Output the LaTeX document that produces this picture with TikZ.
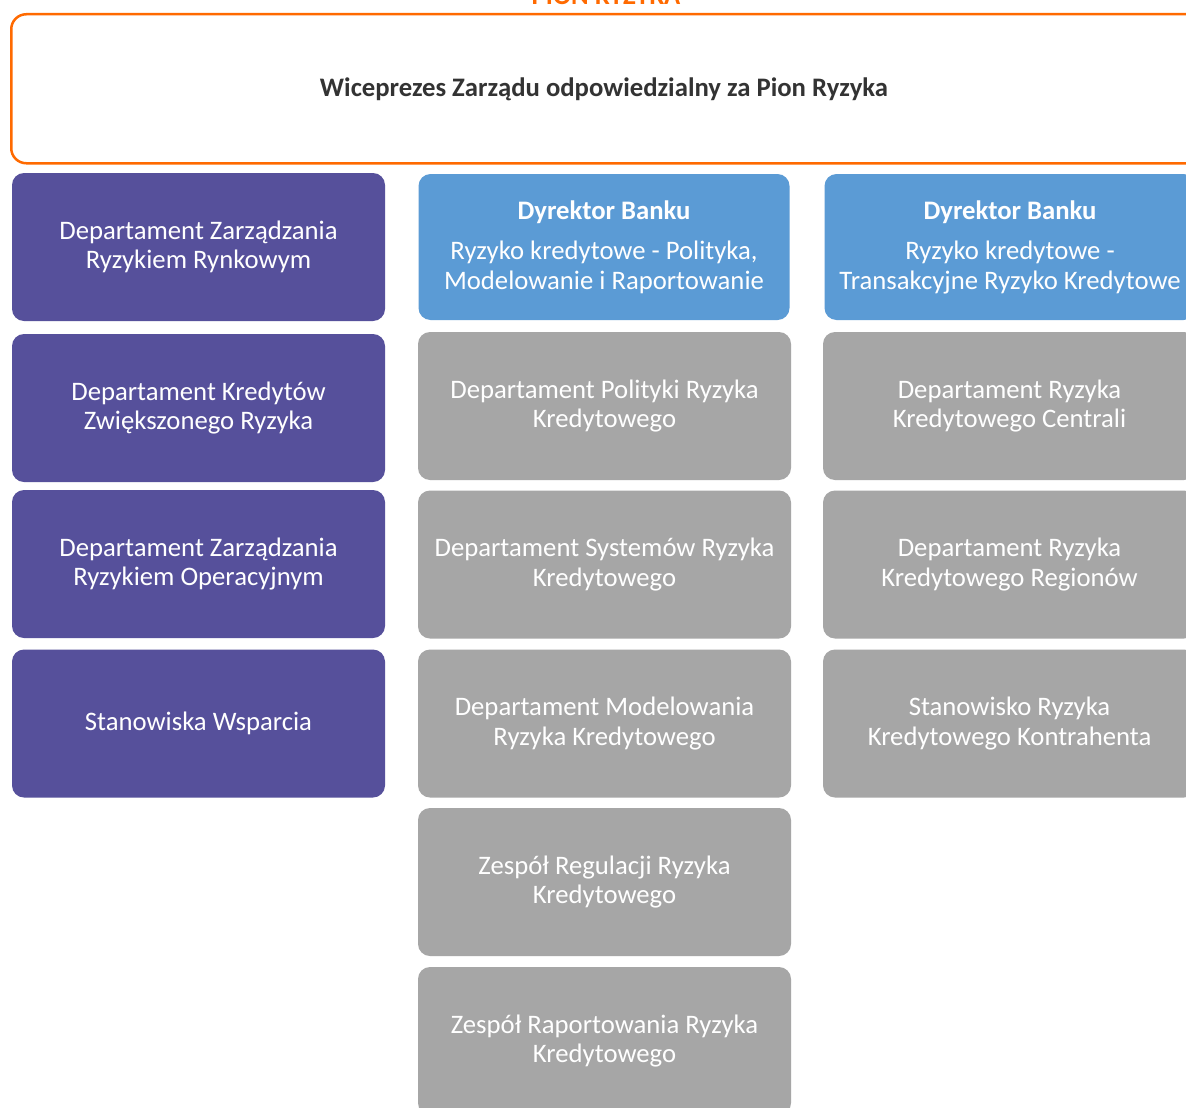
\documentclass[tikz,border=0pt]{standalone}
\usepackage{fontspec}
\setmainfont{Carlito}
\definecolor{purp}{HTML}{56509B}
\definecolor{blu}{HTML}{5B9BD5}
\definecolor{gry}{HTML}{A6A6A6}
\definecolor{orng}{HTML}{FF6A00}
\begin{document}
\begin{tikzpicture}[x=1pt,y=-1pt,
  box/.style={rounded corners=12pt, minimum height=148pt, text=white, align=center,
    font=\fontsize{26.7}{29.5}\selectfont, inner sep=0pt},
  purpbox/.style={box, fill=purp, minimum width=373pt},
  blubox/.style={box, fill=blu, minimum width=371pt, minimum height=146pt},
  grybox/.style={box, fill=gry, minimum width=373pt},
]
\useasboundingbox (0,0) rectangle (1186,1108);
\clip (0,0) rectangle (1186,1108);
\fill[white] (0,0) rectangle (1186,1108);
% top frame
\node[draw=orng, line width=2.5pt, rounded corners=15pt, minimum width=1230pt, minimum height=149pt,
  anchor=north west, inner sep=0pt] (top) at (10,13) {};
\node[font=\fontsize{26.7}{29.5}\selectfont\bfseries, text=black!80, anchor=base] (vp) at (604,96) {Wiceprezes Zarządu odpowiedzialny za Pion Ryzyka};
\node[font=\fontsize{26.7}{29.5}\selectfont\bfseries, text=orng, anchor=base] (pion) at (606,5) {PION RYZYKA};
% column 1
\node[purpbox] (p1) at (198.5,247) {Departament Zarządzania\\Ryzykiem Rynkowym};
\node[purpbox] (p2) at (198.5,408) {Departament Kredytów\\Zwiększonego Ryzyka};
\node[purpbox] (p3) at (198.5,564) {Departament Zarządzania\\Ryzykiem Operacyjnym};
\node[purpbox] (p4) at (198.5,723.5) {Stanowiska Wsparcia};
% column 2
\node[blubox] (b1) at (604,247) {{\bfseries Dyrektor Banku}\\[11pt]Ryzyko kredytowe - Polityka,\\Modelowanie i Raportowanie};
\node[grybox] (g1) at (604.5,406) {Departament Polityki Ryzyka\\Kredytowego};
\node[grybox] (g2) at (604.5,564.5) {Departament Systemów Ryzyka\\Kredytowego};
\node[grybox] (g3) at (604.5,723.5) {Departament Modelowania\\Ryzyka Kredytowego};
\node[grybox] (g4) at (604.5,882) {Zespół Regulacji Ryzyka\\Kredytowego};
\node[grybox] (g5) at (604.5,1041) {Zespół Raportowania Ryzyka\\Kredytowego};
% column 3
\node[blubox] (b2) at (1010,247) {{\bfseries Dyrektor Banku}\\[11pt]Ryzyko kredytowe -\\Transakcyjne Ryzyko Kredytowe};
\node[grybox] (h1) at (1009.5,406) {Departament Ryzyka\\Kredytowego Centrali};
\node[grybox] (h2) at (1009.5,564.5) {Departament Ryzyka\\Kredytowego Regionów};
\node[grybox] (h3) at (1009.5,723.5) {Stanowisko Ryzyka\\Kredytowego Kontrahenta};
\end{tikzpicture}
\end{document}
